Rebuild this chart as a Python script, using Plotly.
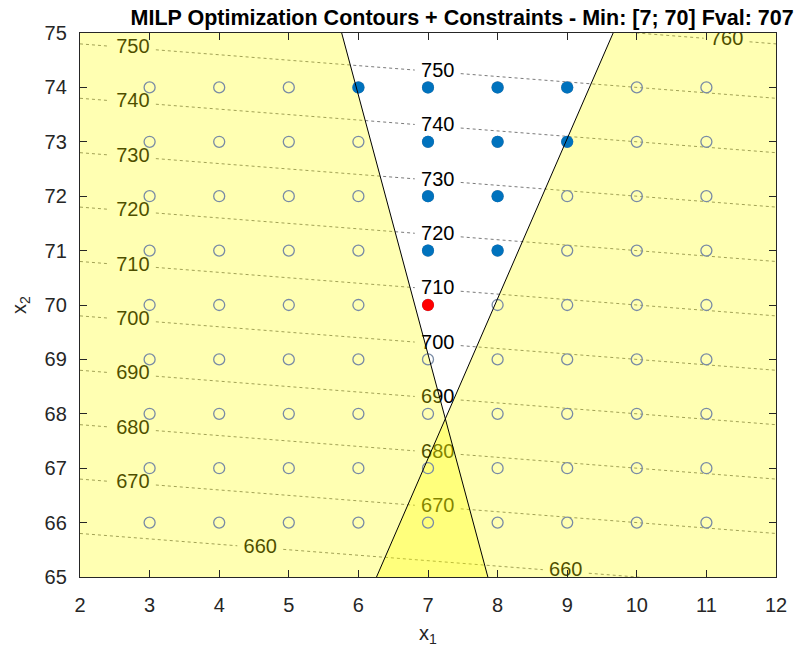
import plotly.graph_objects as go

# objective f = c1*x1 + c2*x2
obj_coef = [1, 10]
levels = [660, 670, 680, 690, 700, 710, 720, 730, 740, 750, 760]
# x1 position(s) of the inline contour labels for each level
label_x = {
    660: [4.59, 8.98],
    670: [2.76, 7.14],
    680: [2.76, 7.14],
    690: [2.76, 7.14],
    700: [2.76, 7.14],
    710: [2.76, 7.14],
    720: [2.76, 7.14],
    730: [2.76, 7.14],
    740: [2.76, 7.14],
    750: [2.76, 7.14],
    760: [11.29],
}

# constraint boundary lines (x1 at the two x2 ends)
left_line_x = [5.76, 7.86]
left_line_y = [75, 65]
right_line_x = [6.26, 9.66]
right_line_y = [65, 75]

grid_x1 = [3, 4, 5, 6, 7, 8, 9, 10, 11]
grid_x2 = [66, 67, 68, 69, 70, 71, 72, 73, 74]
feas_x1 = [6, 7, 8, 9, 7, 8, 9, 7, 8, 7, 8]
feas_x2 = [74, 74, 74, 74, 73, 73, 73, 72, 72, 71, 71]
opt_x = [7, 70]

xlim = [2, 12]
ylim = [65, 75]

fig = go.Figure()

# dotted contour lines with gaps for labels
gap = 0.33
cx, cy = [], []
for lv in levels:
    cuts = [xlim[0]]
    for lx in label_x[lv]:
        cuts += [lx - gap, lx + gap]
    cuts.append(xlim[1])
    for a, b in zip(cuts[::2], cuts[1::2]):
        cx += [a, b, None]
        cy += [(lv - obj_coef[0] * a) / obj_coef[1], (lv - obj_coef[0] * b) / obj_coef[1], None]
fig.add_trace(go.Scatter(x=cx, y=cy, mode='lines', line=dict(color='#7a7a7a', width=1, dash='dot'),
                         hoverinfo='skip'))

# contour labels
tx, ty, tt = [], [], []
for lv in levels:
    for lx in label_x[lv]:
        tx.append(lx)
        ty.append((lv - obj_coef[0] * lx) / obj_coef[1])
        tt.append(str(lv))
fig.add_trace(go.Scatter(x=tx, y=ty, text=tt, mode='text', textposition='middle center',
                         textfont=dict(family='Liberation Sans', size=20, color='black')))

# infeasible regions (transparent yellow)
fig.add_trace(go.Scatter(x=[xlim[0], left_line_x[1], left_line_x[0], xlim[0]],
                         y=[ylim[0], ylim[0], ylim[1], ylim[1]],
                         fill='toself', fillcolor='rgba(255,255,0,0.3)', mode='none'))
fig.add_trace(go.Scatter(x=[right_line_x[0], xlim[1], xlim[1], right_line_x[1]],
                         y=[ylim[0], ylim[0], ylim[1], ylim[1]],
                         fill='toself', fillcolor='rgba(255,255,0,0.3)', mode='none'))

# integer grid
gx = [a for b in grid_x2 for a in grid_x1]
gy = [b for b in grid_x2 for a in grid_x1]
fig.add_trace(go.Scatter(x=gx, y=gy, mode='markers',
                         marker=dict(symbol='circle-open', size=11, color='#798ba5', line=dict(width=1.3))))

fig.add_trace(go.Scatter(x=feas_x1, y=feas_x2, mode='markers',
                         marker=dict(symbol='circle', size=12, color='#0072BD')))
fig.add_trace(go.Scatter(x=[opt_x[0]], y=[opt_x[1]], mode='markers',
                         marker=dict(symbol='circle', size=12, color='#ff0000')))

# constraint lines
fig.add_trace(go.Scatter(x=left_line_x, y=left_line_y, mode='lines', line=dict(color='black', width=1)))
fig.add_trace(go.Scatter(x=right_line_x, y=right_line_y, mode='lines', line=dict(color='black', width=1)))

axis_style = dict(showgrid=False, zeroline=False, showline=True, mirror='ticks', linecolor='#262626',
                  linewidth=1.3, ticks='inside', ticklen=7, tickcolor='#262626', dtick=1,
                  automargin=False,
                  tickfont=dict(family='Liberation Sans', size=20, color='#262626'))

fig.update_layout(
    width=804, height=651,
    margin=dict(l=72, r=36, t=25, b=82),
    paper_bgcolor='white', plot_bgcolor='white',
    showlegend=False,
    title=dict(text='MILP Optimization Contours + Constraints - Min: [7; 70] Fval: 707',
               x=0.549, xref='paper', xanchor='center', y=1 - 9 / 651, yref='container', yanchor='middle',
               font=dict(family='Liberation Sans', size=21.5, color='black', weight='bold')),
    xaxis=dict(range=xlim, ticklabelstandoff=10,
               title=dict(text='x<sub>1</sub>', standoff=10,
                          font=dict(family='Liberation Sans', size=20, color='#262626')),
               **axis_style),
    yaxis=dict(range=ylim, ticklabelstandoff=8,
               title=dict(text='x<sub>2</sub>', standoff=16,
                          font=dict(family='Liberation Sans', size=20, color='#262626')),
               **axis_style),
)

fig.write_html("out.html")
